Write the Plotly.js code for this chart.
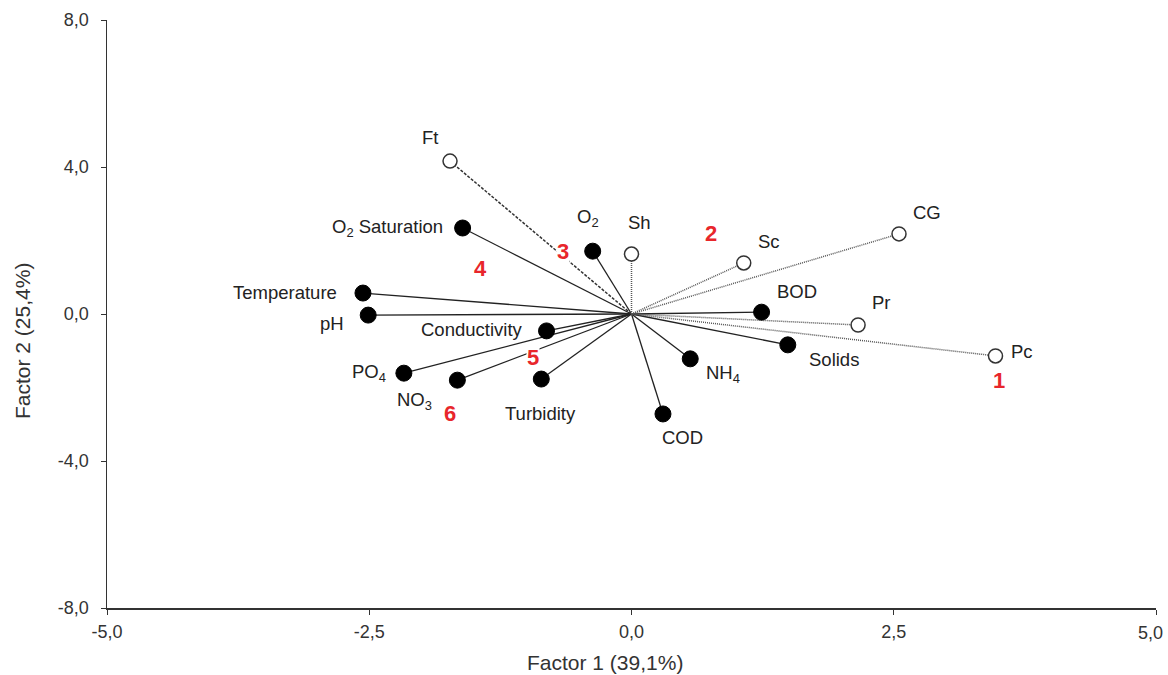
<!DOCTYPE html>
<html>
<head>
<meta charset="utf-8">
<script src="https://cdn.plot.ly/plotly-3.0.1.min.js"></script>
<style>html,body{margin:0;padding:0;background:#fff;}#chart{width:1168px;height:675px;}</style>
</head>
<body>
<div id="chart"></div>
<script>
// Variables (filled circles)
const varNames = ["O<sub>2</sub> Saturation","O<sub>2</sub>","Temperature","pH","Conductivity","PO<sub>4</sub>","NO<sub>3</sub>","Turbidity","COD","NH<sub>4</sub>","Solids","BOD"];
const varF1 = [-1.61,-0.37,-2.56,-2.51,-0.81,-2.17,-1.66,-0.86,0.30,0.56,1.49,1.24];
const varF2 = [2.34,1.71,0.57,-0.03,-0.46,-1.61,-1.80,-1.77,-2.72,-1.22,-0.84,0.05];

// Supplementary (open circles)
const supNames = ["Ft","Sh","Sc","CG","Pr","Pc"];
const supF1 = [-1.73,0.00,1.07,2.55,2.16,3.47];
const supF2 = [4.16,1.63,1.39,2.18,-0.30,-1.14];

// Group numbers
const groupNames = ["1","2","3","4","5","6"];
const groupF1 = [3.50,0.76,-0.65,-1.44,-0.94,-1.73];
const groupF2 = [-1.82,2.18,1.71,1.25,-1.17,-2.72];

const xTicks = [-5,-2.5,0,2.5,5];
const xTickText = ["-5,0","-2,5","0,0","2,5","5,0"];
const yTicks = [-8,-4,0,4,8];
const yTickText = ["-8,0","-4,0","0,0","4,0","8,0"];

// label placement (pixel offsets): [xshift, yshift, xanchor]
const varLabelPos = [[-18,0,"right"],[-5,33,"center"],[-24,1,"right"],[-36,-8,"center"],[-22,1,"right"],[-35,0,"center"],[-43,-21,"center"],[-1,-34,"center"],[20,-24,"center"],[33,-15,"center"],[46,-15,"center"],[35,21,"center"]];
const supLabelPos = [[-20,24,"center"],[8,32,"center"],[25,21,"center"],[28,21,"center"],[23,23,"center"],[26,4,"center"]];

const FONT = "Liberation Sans, Arial, sans-serif";
const traces = [];
const annotations = [];

varF1.forEach((x,i)=>{
  traces.push({x:[0,x],y:[0,varF2[i]],mode:"lines",type:"scatter",hoverinfo:"skip",
    line:{color:"#222",width:1.3},showlegend:false});
});
supF1.forEach((x,i)=>{
  const isFt = supNames[i]==="Ft";
  traces.push({x:[0,x],y:[0,supF2[i]],mode:"lines",type:"scatter",hoverinfo:"skip",
    line:{color:isFt?"#333":"#555",width:1.5,dash:isFt?"3px,1.5px":"1px,1px"},showlegend:false});
});
traces.push({x:varF1,y:varF2,mode:"markers",type:"scatter",text:varNames,hoverinfo:"text",
  marker:{size:16,color:"#000",line:{color:"#000",width:1}},showlegend:false});
traces.push({x:supF1,y:supF2,mode:"markers",type:"scatter",text:supNames,hoverinfo:"text",
  marker:{size:14,color:"#fff",line:{color:"#333",width:1.5}},showlegend:false});

varNames.forEach((n,i)=>{
  const p = varLabelPos[i];
  annotations.push({x:varF1[i],y:varF2[i],xref:"x",yref:"y",text:n,showarrow:false,
    xshift:p[0],yshift:p[1],xanchor:p[2],yanchor:"middle",font:{family:FONT,size:18.5,color:"#222"}});
});
supNames.forEach((n,i)=>{
  const p = supLabelPos[i];
  annotations.push({x:supF1[i],y:supF2[i],xref:"x",yref:"y",text:n,showarrow:false,
    xshift:p[0],yshift:p[1],xanchor:p[2],yanchor:"middle",font:{family:FONT,size:18.5,color:"#222"}});
});
groupNames.forEach((n,i)=>{
  annotations.push({x:groupF1[i],y:groupF2[i],xref:"x",yref:"y",text:"<b>"+n+"</b>",showarrow:false,
    bgcolor:"#fff",borderpad:0,font:{family:FONT,size:22,color:"#e8262b"}});
});
// last x tick label drawn as annotation so it is not clipped at the page edge
annotations.push({xref:"x",yref:"paper",x:xTicks[xTicks.length-1],y:0,xshift:-6,yshift:-25,text:xTickText[xTickText.length-1],
  showarrow:false,xanchor:"center",yanchor:"middle",font:{family:FONT,size:18,color:"#333"}});
// axis titles
annotations.push({xref:"paper",yref:"paper",x:(605-107)/1049,y:0,yshift:-54,text:"Factor 1 (39,1%)",
  showarrow:false,xanchor:"center",yanchor:"middle",font:{family:FONT,size:21,color:"#333"}});
annotations.push({xref:"paper",yref:"paper",x:0,xshift:-85,y:(608-341)/588,text:"Factor 2 (25,4%)",textangle:-90,
  showarrow:false,xanchor:"center",yanchor:"middle",font:{family:FONT,size:21,color:"#333"}});

const xTickShown = xTickText.map((t,i)=> i===xTickText.length-1 ? " " : t);

const layout = {
  width:1168,height:675,
  margin:{l:107,r:12,t:20,b:67},
  paper_bgcolor:"#fff",plot_bgcolor:"#fff",
  showlegend:false,
  xaxis:{range:[-5,5],tickvals:xTicks,ticktext:xTickShown,showgrid:false,zeroline:false,
    showline:true,linecolor:"#333",linewidth:1.5,ticks:"outside",ticklen:5,tickcolor:"#333",
    ticklabeloverflow:"allow",ticklabelstandoff:2,tickfont:{family:FONT,size:18,color:"#333"}},
  yaxis:{range:[-8,8],tickvals:yTicks,ticktext:yTickText,showgrid:false,zeroline:false,
    showline:true,linecolor:"#333",linewidth:1.5,ticks:"outside",ticklen:5,tickcolor:"#333",
    ticklabeloverflow:"allow",ticklabelstandoff:8,tickfont:{family:FONT,size:18,color:"#333"}},
  annotations:annotations
};
Plotly.newPlot("chart",traces,layout,{staticPlot:true});
</script>
</body>
</html>
